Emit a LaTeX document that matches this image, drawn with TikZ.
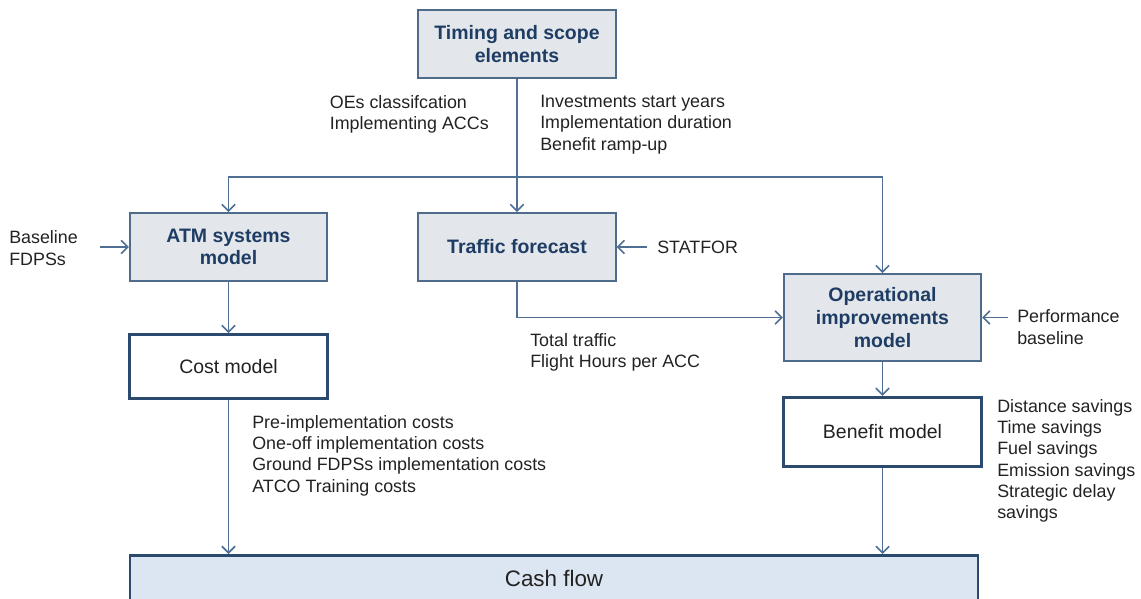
\documentclass[tikz,border=0pt]{standalone}
\usepackage{fontspec}
\setmainfont{Liberation Sans}
\usetikzlibrary{arrows.meta}
\definecolor{boxfill}{HTML}{E3E7EB}
\definecolor{boxline}{HTML}{4F6B8C}
\definecolor{titleblue}{HTML}{1F3D64}
\definecolor{darkline}{HTML}{2C4A6E}
\definecolor{cashfill}{HTML}{DCE6F2}
\definecolor{wire}{HTML}{4F6F95}
\definecolor{txt}{HTML}{222222}
\begin{document}
\begin{tikzpicture}[x=0.75pt,y=-0.75pt,
  modelbox/.style={draw=boxline,fill=boxfill,line width=1.4pt,minimum width=148pt,minimum height=51pt,
    inner sep=0pt,align=center,text=titleblue,font=\fontsize{14.6}{17}\selectfont\bfseries},
  calcbox/.style={draw=darkline,fill=white,line width=2.2pt,minimum width=148pt,minimum height=50pt,
    inner sep=0pt,align=center,text=txt,font=\fontsize{14.6}{17}\selectfont},
  note/.style={inner sep=0pt,align=left,text=txt,font=\fontsize{13.4}{16}\selectfont},
  arr/.style={draw=wire,line width=1.2pt,-{Straight Barb[length=5pt,width=10pt,line width=1.2pt]}},
  wireline/.style={draw=wire,line width=1.2pt}]
\useasboundingbox (0,0) rectangle (1141,599);

% model boxes
\node[modelbox,minimum height=51pt] (timing) at (517,44) {Timing and scope\\elements};
\node[modelbox] (atm) at (228.5,247) {ATM systems\\model};
\node[modelbox] (traffic) at (517,247) {Traffic forecast};
\node[modelbox,minimum height=65pt] (oi) at (882.5,317.5) {Operational\\improvements\\model};

% calculation boxes
\node[calcbox,minimum height=48pt] (cost) at (228.5,366.5) {Cost model};
\node[calcbox,minimum height=52pt] (benefit) at (882.5,432) {Benefit model};

% cash flow bar
\node[draw=darkline,fill=cashfill,line width=2.2pt,minimum width=636pt,minimum height=44pt,inner sep=0pt,
  anchor=north] (cash) at (554,554) {};
\node[text=txt,font=\fontsize{16.8}{19}\selectfont] (cashlabel) at (554,578) {Cash flow};

% distribution from the timing elements
\coordinate (split) at (517,177);
\draw[arr] (timing.south) -- (traffic.north);
\draw[arr] (split) -| (atm.north);
\draw[arr] (split) -| (oi.north);

% model chain
\draw[arr] (atm.south) -- (cost.north);
\draw[arr] (cost.south) -- (cost.south |- cash.north);
\draw[arr] (traffic.south) |- (oi.west);
\draw[arr] (oi.south) -- (benefit.north);
\draw[arr] (benefit.south) -- (benefit.south |- cash.north);

% external inputs
\node[note,anchor=west] (baseline) at (9,248) {Baseline\\FDPSs};
\coordinate (baseIn) at (100,247);
\draw[arr] (baseIn) -- (atm.west);

\node[note,anchor=west] (statfor) at (657,247) {STATFOR};
\coordinate (statIn) at (647,247);
\draw[arr] (statIn) -- (traffic.east);

\node[note,anchor=west] (perf) at (1017,327) {Performance\\baseline};
\coordinate (perfIn) at (1008,317.5);
\draw[arr] (perfIn) -- (oi.east);

% flow labels
\node[note,anchor=north east] (oes) at (489,95) {OEs classifcation\\Implementing ACCs};
\node[note,anchor=north west] (invest) at (540,95) {Investments start years\\Implementation duration\\Benefit ramp-up};
\node[note,anchor=north west] (trafficout) at (530,333) {Total traffic\\Flight Hours per ACC};
\node[note,anchor=north west] (costout) at (252,415) {Pre-implementation costs\\One-off implementation costs\\Ground FDPSs implementation costs\\ATCO Training costs};
\node[note,anchor=north west] (benefitout) at (997,399) {Distance savings\\Time savings\\Fuel savings\\Emission savings\\Strategic delay\\savings};
\end{tikzpicture}
\end{document}
